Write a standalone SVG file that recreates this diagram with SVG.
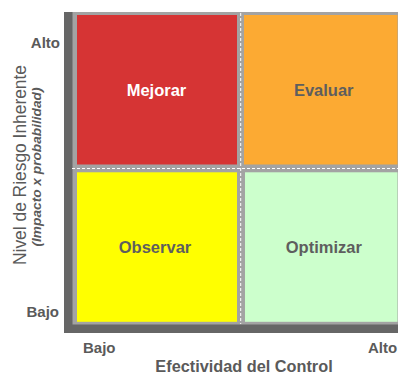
<svg xmlns="http://www.w3.org/2000/svg" width="398" height="374" viewBox="0 0 398 374">
<style>
.lbl{font-family:"Liberation Sans",Arial,sans-serif;font-weight:bold;fill:#5a5a5a;font-size:15px}
.cell{font-family:"Liberation Sans",Arial,sans-serif;font-weight:bold;font-size:16.5px;text-anchor:middle;fill:#5e5e5e}
.div{stroke:#ffffff;stroke-width:1;stroke-dasharray:3 2;fill:none}
</style>
<rect x="0" y="0" width="398" height="374" fill="#ffffff"/>
<g id="frame">
<rect x="72" y="12" width="326" height="313" fill="#a3a3a3"/>
<rect x="64" y="12" width="8.5" height="321" fill="#666666"/>
<rect x="64" y="324.5" width="334" height="8.5" fill="#666666"/>
</g>
<g id="mejorar">
<rect x="77" y="15" width="160" height="149.5" fill="#d63434"/>
<text class="cell" x="156.5" y="96" fill="#ffffff" style="fill:#ffffff">Mejorar</text>
</g>
<g id="evaluar">
<rect x="244" y="15" width="153.5" height="149.5" fill="#fcaa33"/>
<text class="cell" x="323.7" y="96">Evaluar</text>
</g>
<g id="observar">
<rect x="77" y="172.3" width="160" height="149.5" fill="#ffff00"/>
<text class="cell" x="155" y="253">Observar</text>
</g>
<g id="optimizar">
<rect x="245" y="172.3" width="152.5" height="149.5" fill="#ccffcc"/>
<text class="cell" x="323.8" y="253">Optimizar</text>
</g>
<g id="connectors">
<line class="div" x1="240.7" y1="8" x2="240.7" y2="324"/>
<line class="div" x1="72" y1="168.5" x2="398" y2="168.5"/>
</g>
<g id="labels">
<text class="lbl" x="60" y="48" text-anchor="end">Alto</text>
<text class="lbl" x="59" y="317" text-anchor="end">Bajo</text>
<text class="lbl" x="83" y="352.5">Bajo</text>
<text class="lbl" x="368" y="353">Alto</text>
<text class="lbl" x="244" y="372" text-anchor="middle" style="font-size:16.3px">Efectividad del Control</text>
<text x="0" y="0" transform="translate(26,165) rotate(-90)" text-anchor="middle" font-family="'Liberation Sans',Arial,sans-serif" font-size="18" fill="#5a5a5a" textLength="200" lengthAdjust="spacingAndGlyphs">Nivel de Riesgo Inherente</text>
<text x="0" y="0" transform="translate(41,167) rotate(-90)" text-anchor="middle" font-family="'Liberation Sans',Arial,sans-serif" font-size="12" font-weight="bold" font-style="italic" fill="#5a5a5a" textLength="159" lengthAdjust="spacingAndGlyphs">(Impacto x probabilidad)</text>
</g>
</svg>
